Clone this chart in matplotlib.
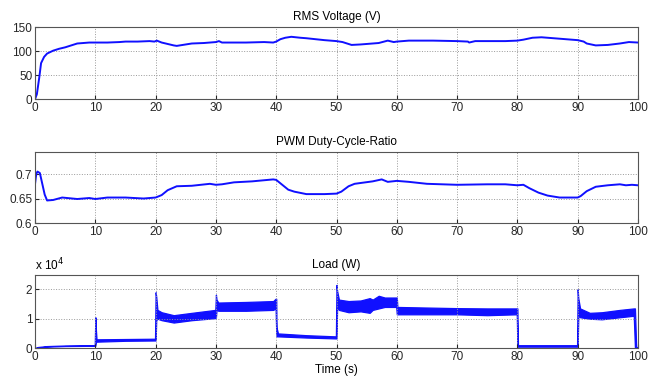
import matplotlib
matplotlib.use('Agg')
import matplotlib.pyplot as plt
from matplotlib.ticker import FuncFormatter

plt.rcParams['font.family'] = ['Liberation Sans', 'DejaVu Sans']
plt.rcParams['font.size'] = 8.5

# RMS voltage (V)
v_t = [0, 0.3, 0.7, 1, 1.5, 2, 3, 4, 5, 6, 7, 9, 10, 12, 14, 15, 17, 19, 19.8, 20.2, 21, 22,
       23, 23.5, 25, 26, 28, 30, 30.5, 31, 33, 35, 38, 39.5, 40, 40.7, 41.5, 42.5, 44, 45, 48,
       50, 51, 52.5, 54, 55, 57, 58.5, 59.5, 60, 62, 66, 70, 71.8, 72, 73, 78, 80, 81,
       82.5, 84, 87, 90, 91, 91.5, 93, 95, 97, 98.5, 100]
v_val = [0, 10, 45, 75, 88, 95, 101, 105, 108, 112, 116, 118, 118, 118, 119, 120, 120, 121, 120,
         122, 118, 115, 112, 111, 114, 116, 117, 119, 121, 118, 118, 118, 119, 118, 120, 125, 128,
         130, 128, 127, 123, 121, 119, 113, 114, 115, 117, 122, 119, 120, 122, 122, 121, 120, 118,
         121, 121, 122, 124, 128, 129, 126, 123, 120, 116, 112, 113, 116, 119, 118]

# PWM duty-cycle ratio
d_t = [0, 0.2, 0.4, 0.8, 1.2, 1.6, 2, 3, 4.5, 7, 9, 10, 12, 15, 18, 20, 21, 22, 23.5, 26, 29,
       30, 31, 33, 36, 39.5, 40, 41, 42, 43, 45, 48, 50, 50.8, 52, 53, 56, 57.5, 58.5, 60, 62,
       65, 70, 75, 78, 80, 81, 82, 83.5, 85, 87, 90, 90.5, 91.5, 93, 95, 97, 98, 99, 100]
d_val = [0.680, 0.700, 0.705, 0.702, 0.680, 0.658, 0.646, 0.647, 0.652, 0.649, 0.651, 0.649,
         0.652, 0.652, 0.650, 0.652, 0.657, 0.667, 0.675, 0.676, 0.680, 0.678, 0.679, 0.683,
         0.685, 0.689, 0.688, 0.678, 0.668, 0.664, 0.659, 0.659, 0.660, 0.664, 0.675, 0.680,
         0.685, 0.689, 0.684, 0.686, 0.684, 0.680, 0.678, 0.679, 0.679, 0.677, 0.678, 0.671,
         0.662, 0.656, 0.652, 0.652, 0.655, 0.665, 0.674, 0.677, 0.679, 0.677, 0.678, 0.677]

# Load (W): lower / upper envelope of the oscillating signal
p_t = [0, 0.5, 2, 5, 9.9, 10.0, 10.1, 10.2, 15, 19.9, 20.0, 20.1, 20.3, 21, 23, 26, 29.9,
       30.0, 30.1, 30.4, 35, 39.5, 39.9, 40.0, 40.05, 40.3, 45, 49.9, 50.0, 50.1, 50.4, 52,
       54, 55.5, 56, 57, 58, 59.9, 60.0, 60.1, 65, 70, 75, 79.9, 80.0, 80.1, 89.9, 90.0,
       90.1, 90.4, 92, 94, 97, 99.3, 99.5, 99.7, 100]
p_lo = [0, 200, 500, 700, 800, 800, 2000, 2200, 2500, 2600, 2600, 9500, 10000, 9500, 8700,
        9500, 10200, 10500, 13000, 12700, 12700, 13000, 13500, 5500, 4000, 4000, 3600, 3300,
        3300, 14000, 13000, 12200, 12500, 12000, 13000, 13500, 14000, 14000, 11500, 11500,
        11500, 11500, 11200, 11500, 500, 500, 500, 500, 11000, 10500, 10000, 9800, 10500,
        11000, 0, 0, 0]
p_hi = [0, 400, 700, 900, 1000, 10500, 6000, 3000, 3100, 3200, 19000, 17500, 13000, 12200,
        11200, 12000, 13000, 18200, 16500, 15500, 15700, 16000, 16800, 16800, 7000, 5000, 4400,
        4000, 21500, 19500, 16500, 16000, 16200, 17000, 16500, 17800, 17200, 17200, 17200,
        14000, 13800, 13600, 13500, 13500, 13500, 1000, 1000, 20000, 17000, 13500, 12000,
        12200, 13000, 13500, 13500, 500, 200]

blue = '#1010FF'
fig = plt.figure(figsize=(6.49, 3.78), dpi=100)
ax1 = fig.add_axes([0.054, 0.738, 0.929, 0.190])
ax2 = fig.add_axes([0.054, 0.410, 0.929, 0.188])
ax3 = fig.add_axes([0.054, 0.079, 0.929, 0.193])

ax1.plot(v_t, v_val, color=blue, lw=1.4)
ax1.set_ylim(0, 150)
ax1.set_yticks([0, 50, 100, 150])
ax1.set_title('RMS Voltage (V)', fontsize=8.5, pad=5)

ax2.plot(d_t, d_val, color=blue, lw=1.4)
ax2.set_ylim(0.6, 0.745)
ax2.set_yticks([0.6, 0.65, 0.7])
ax2.yaxis.set_major_formatter(FuncFormatter(lambda v, _: f'{v:g}'))
ax2.set_title('PWM Duty-Cycle-Ratio', fontsize=8.5, pad=5)

ax3.fill_between(p_t, p_lo, p_hi, color=blue, lw=0.9, edgecolor=blue)
ax3.set_ylim(0, 24800)
ax3.set_yticks([0, 10000, 20000])
ax3.yaxis.set_major_formatter(FuncFormatter(lambda v, _: f'{v / 1e4:g}'))
ax3.text(0, 1.02, 'x 10$^4$', transform=ax3.transAxes, ha='left', va='bottom', fontsize=8.5)
ax3.set_title('Load (W)', fontsize=8.5, pad=5)
ax3.set_xlabel('Time (s)', labelpad=1)

for ax in (ax1, ax2, ax3):
    ax.set_xlim(0, 100)
    ax.set_xticks(range(0, 101, 10))
    ax.grid(True, color='#999999', linestyle=':', lw=0.7)
    ax.tick_params(direction='in', length=3, pad=2, colors='#262626', labelcolor='#262626')
    for s in ax.spines.values():
        s.set_color('#555555')
        s.set_linewidth(0.8)

fig.savefig('out.png', dpi=100)
